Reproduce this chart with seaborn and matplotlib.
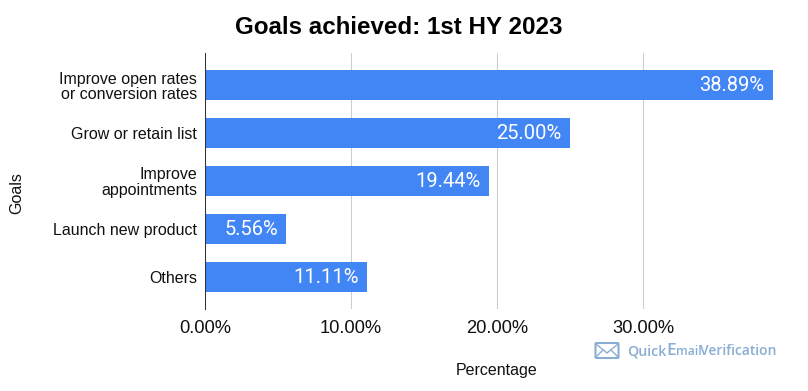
import seaborn as sns
import matplotlib.pyplot as plt
import matplotlib.patches as mpatches
from matplotlib.lines import Line2D
import pandas as pd

goals = ["Improve open rates\nor conversion rates", "Grow or retain list", "Improve\nappointments",
         "Launch new product", "Others"]
values = [38.89, 25.00, 19.44, 5.56, 11.11]
xticks = [0, 10, 20, 30, 40]
xtick_labels = ["0.00%", "10.00%", "20.00%", "30.00%", ""]

data = pd.DataFrame({"Goals": goals, "Percentage": values})

W, H = 808, 391
X0, X1, Y0, Y1 = 205, 789, 53, 309
sns.set_theme(style="white")
plt.rcParams['font.family'] = ['Liberation Sans', 'DejaVu Sans']

fig = plt.figure(figsize=(W / 100, H / 100), dpi=100)
ax = fig.add_axes([X0 / W, 1 - Y1 / H, (X1 - X0) / W, (Y1 - Y0) / H])

sns.barplot(x="Percentage", y="Goals", data=data, color="#4285f4", saturation=1, width=0.645, ax=ax, zorder=3,
            linewidth=0)

ax.set_xlim(0, 40)
ax.set_ylim(4.667, -0.667)
ax.set_xticks(xticks)
ax.set_xticklabels(xtick_labels, fontsize=13.2, color="#111111")
ax.grid(axis="x", color="#cccccc", linewidth=0.75, zorder=0)
ax.tick_params(axis="x", length=0, pad=8)
ax.tick_params(axis="y", length=0, pad=5.5, labelsize=11.5, labelcolor="#111111")
for lab in ax.get_yticklabels():
    lab.set_linespacing(1.05)

for s in ["top", "right", "bottom"]:
    ax.spines[s].set_visible(False)
ax.spines["left"].set_color("#333333")
ax.spines["left"].set_linewidth(0.75)
ax.spines["left"].set_zorder(5)

for i, v in enumerate(values):
    ax.annotate("%.2f%%" % v, (v, i), xytext=(-6, -0.5), textcoords="offset points", ha="right", va="center",
                color="white", fontsize=14.5, family="Roboto", zorder=6)

ax.set_xlabel("Percentage", fontsize=11.5, color="#111111", labelpad=0)
ax.xaxis.set_label_coords((497 - X0) / (X1 - X0), 1 - (362.5 - Y0) / (Y1 - Y0))
ax.set_ylabel("Goals", fontsize=11.5, color="#111111")
ax.yaxis.set_label_coords((24 - X0) / (X1 - X0), 1 - (193 - Y0) / (Y1 - Y0))

fig.text(399 / W, 1 - 27 / H, "Goals achieved: 1st HY 2023", fontsize=17.4, fontweight="bold", color="black",
         ha="center", va="center")

# watermark
mark = "#8aaed3"
fig.add_artist(mpatches.FancyBboxPatch((595.5 / W, 1 - 358 / H), 23 / W, 15 / H, boxstyle="round,pad=0,rounding_size=0.002",
                                       transform=fig.transFigure, facecolor="white", edgecolor=mark, linewidth=1.5))
for xs, ys in [([596, 607, 618], [344, 353, 344]), ([596, 603], [357, 350]), ([618, 611], [357, 350])]:
    fig.add_artist(Line2D([x / W for x in xs], [1 - y / H for y in ys], color=mark, linewidth=1,
                          transform=fig.transFigure))
for x, txt, size in [(627, "Quick", 10.2), (666, "E", 12.5), (676, "mail", 8.8), (700, "Verification", 10)]:
    fig.text(x / W, 1 - 355 / H, txt, fontsize=size, fontweight="semibold", color=mark,
             family="Open Sans", ha="left", va="baseline")

fig.savefig("out.png", dpi=100)
